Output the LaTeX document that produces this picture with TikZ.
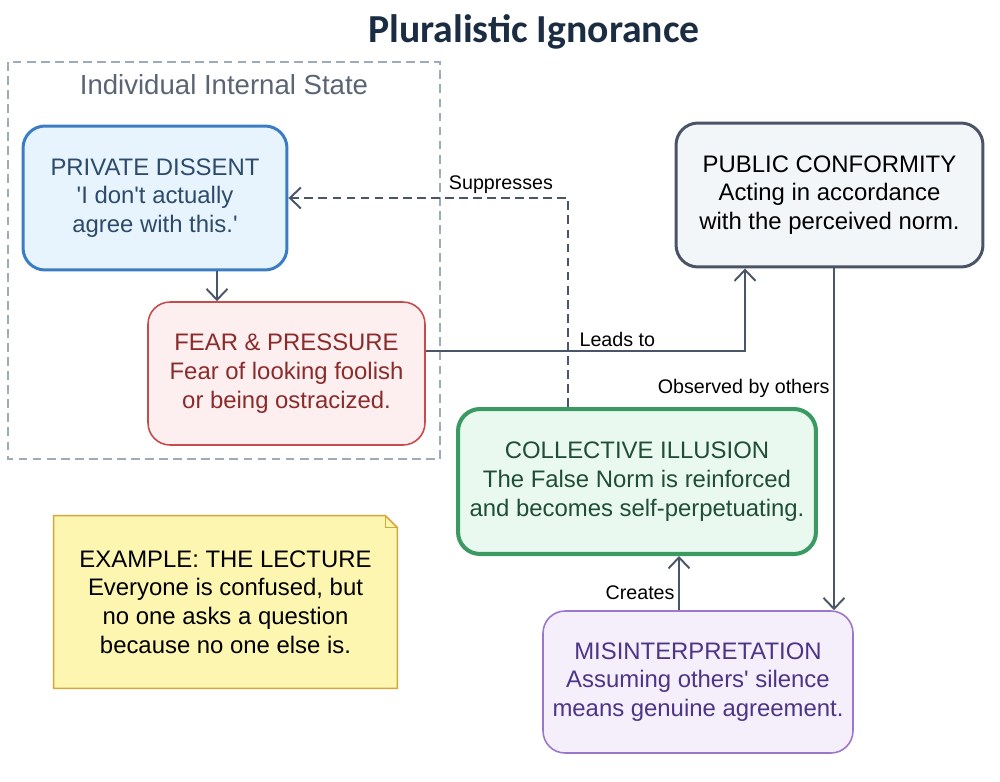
\documentclass[tikz,border=0pt]{standalone}
\usepackage{fontspec}
\setmainfont{Liberation Sans}
\newfontfamily\titlefont{Carlito}
\usetikzlibrary{arrows.meta,backgrounds}
\definecolor{edgegray}{HTML}{4A5568}
\definecolor{groupgray}{HTML}{A0ABB8}
\definecolor{grouptext}{HTML}{5A6472}
\definecolor{titleblue}{HTML}{1B2D42}
\definecolor{privfill}{HTML}{E8F4FD}
\definecolor{privdraw}{HTML}{3B7DC4}
\definecolor{privtext}{HTML}{2C4A6B}
\definecolor{fearfill}{HTML}{FDEFEF}
\definecolor{feardraw}{HTML}{C84B4B}
\definecolor{feartext}{HTML}{8A2C2C}
\definecolor{pubfill}{HTML}{F3F6F9}
\definecolor{pubdraw}{HTML}{4A5466}
\definecolor{collfill}{HTML}{EAF9F0}
\definecolor{colldraw}{HTML}{3A9A62}
\definecolor{colltext}{HTML}{1F4D35}
\definecolor{misfill}{HTML}{F5EFFC}
\definecolor{misdraw}{HTML}{9B77CC}
\definecolor{mistext}{HTML}{4B3584}
\definecolor{notefill}{HTML}{FDF6B0}
\definecolor{notedraw}{HTML}{D4A838}
\tikzset{
  stage/.style={rounded corners=0.44cm, align=center, inner sep=0pt,
    font=\fontsize{13.6}{16.3}\selectfont},
  flow/.style={draw=edgegray, line width=1.1pt,
    -{Straight Barb[length=0.22cm,width=0.42cm,line width=1.1pt]}},
  flowlabel/.style={font=\fontsize{11.2}{13}\selectfont, text=black, inner sep=2pt}
}
\begin{document}
\begin{tikzpicture}[x=0.02cm, y=-0.02cm]
\useasboundingbox (0,0) rectangle (1000,781);
\node[font=\titlefont\bfseries\fontsize{22.6}{26}\selectfont, text=titleblue] (title) at (534,32) {Pluralistic Ignorance};
\draw[groupgray, line width=0.8pt, dash pattern=on 5pt off 3pt] (8,62) rectangle (440,459);
\node[text=grouptext, font=\fontsize{15.7}{18}\selectfont] (grouplabel) at (224,85) {Individual Internal State};
\node[stage, fill=privfill, draw=privdraw, line width=1.7pt, text=privtext,
  minimum width=5.28cm, minimum height=2.88cm] (priv) at (155,198)
  {PRIVATE DISSENT\\\textquotesingle I don\textquotesingle t actually\\agree with this.\textquotesingle};
\node[stage, fill=fearfill, draw=feardraw, line width=0.9pt, text=feartext,
  minimum width=5.54cm, minimum height=2.86cm] (fear) at (286.5,373.5)
  {FEAR \& PRESSURE\\Fear of looking foolish\\or being ostracized.};
\node[stage, fill=pubfill, draw=pubdraw, line width=1.7pt, text=black,
  minimum width=6.14cm, minimum height=2.88cm] (pub) at (829.5,195)
  {PUBLIC CONFORMITY\\Acting in accordance\\with the perceived norm.};
\node[stage, fill=collfill, draw=colldraw, line width=2.3pt, text=colltext,
  minimum width=7.16cm, minimum height=2.9cm] (coll) at (637,481.5)
  {COLLECTIVE ILLUSION\\The False Norm is reinforced\\and becomes self-perpetuating.};
\node[stage, fill=misfill, draw=misdraw, line width=0.9pt, text=mistext,
  minimum width=6.2cm, minimum height=2.84cm] (mis) at (698,682)
  {MISINTERPRETATION\\Assuming others\textquotesingle\ silence\\means genuine agreement.};
\node[align=center, inner sep=0pt, font=\fontsize{13.6}{16.3}\selectfont,
  minimum width=6.86cm, minimum height=3.44cm] (note) at (225.5,602)
  {EXAMPLE: THE LECTURE\\Everyone is confused, but\\no one asks a question\\because no one else is.};
\begin{scope}[on background layer]
\draw[notedraw, fill=notefill, line width=0.9pt] (note.south west) -- (note.north west) -- ([xshift=-0.24cm]note.north east)
  -- ([yshift=-0.24cm]note.north east) -- (note.south east) -- cycle;
\draw[notedraw, line width=0.9pt] ([xshift=-0.24cm]note.north east) -- ([xshift=-0.24cm,yshift=-0.24cm]note.north east)
  -- ([yshift=-0.24cm]note.north east);
\end{scope}
\draw[flow] ([xshift=1.24cm]priv.south) -- ([xshift=1.24cm]priv.south |- fear.north);
\draw[flow] ([yshift=0.45cm]fear.east) -| node[flowlabel, pos=0.3, above] {Leads to} ([xshift=-1.69cm]pub.south);
\draw[flow] ([xshift=0.09cm]pub.south) -- node[flowlabel, pos=0.35, left] {Observed by others} ([xshift=0.09cm]pub.south |- mis.north);
\draw[flow] ([xshift=-0.38cm]mis.north) -- node[flowlabel, pos=0.33, left] {Creates} ([xshift=-0.38cm]mis.north |- coll.south);
\draw[flow, dash pattern=on 5pt off 3pt] ([xshift=-1.38cm]coll.north) |- node[flowlabel, pos=0.62, above] {Suppresses} (priv.east);
\end{tikzpicture}
\end{document}
